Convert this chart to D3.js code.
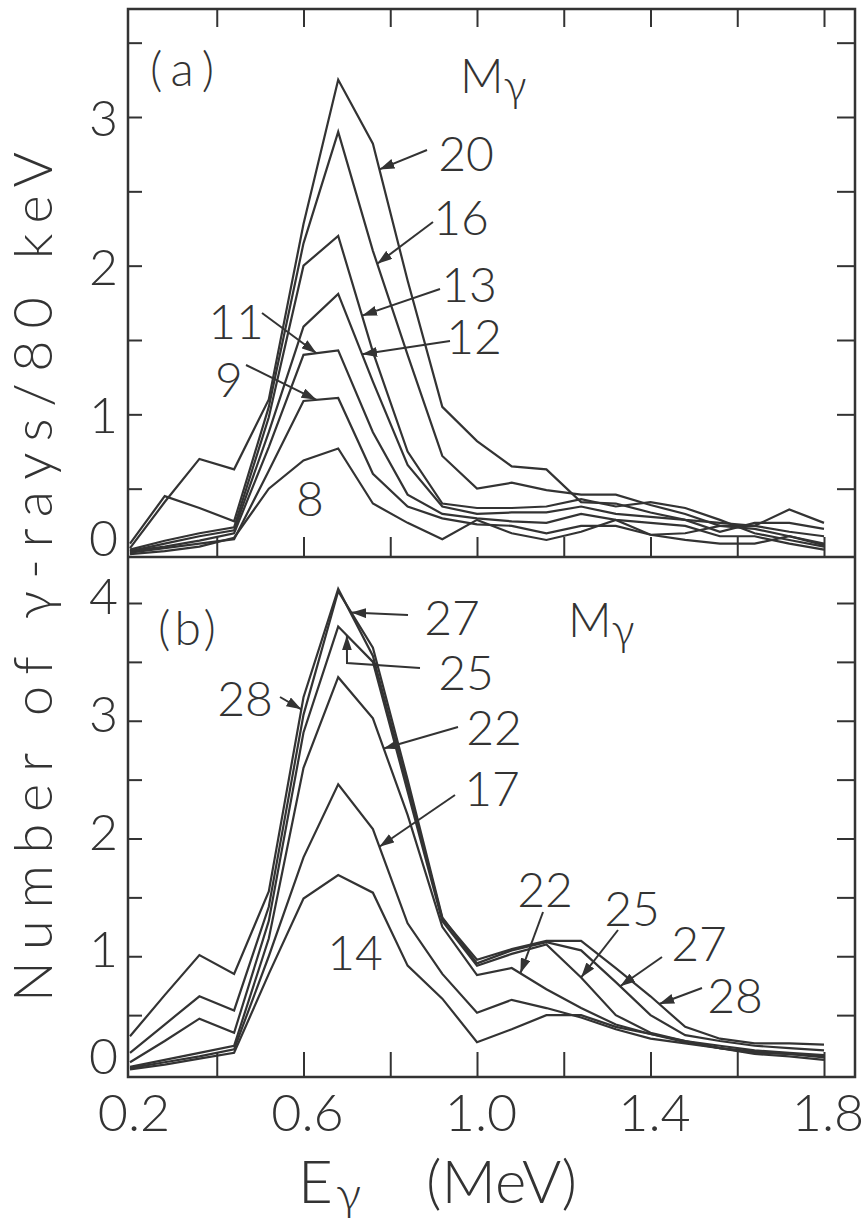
<!DOCTYPE html>
<html>
<head>
<meta charset="utf-8">
<script src="https://cdn.jsdelivr.net/npm/d3@7"></script>
<style>
  body { margin: 0; background: #fff; }
  svg text { font-family: Lato, "DejaVu Sans", sans-serif; font-weight: 300; fill: #333; }
</style>
</head>
<body>
<svg id="chart" width="867" height="1223"></svg>
<script>
// Gamma-ray energy bins (MeV), 80 keV wide
const energies = [0.20, 0.28, 0.36, 0.44, 0.52, 0.60, 0.68, 0.76, 0.84, 0.92, 1.00,
                  1.08, 1.16, 1.24, 1.32, 1.40, 1.48, 1.56, 1.64, 1.72, 1.80];

// Panel (a): spectra gated on gamma multiplicity
const a_M8  = [0.06,0.08,0.11,0.17,0.50,0.69,0.77,0.40,0.27,0.16,0.29,0.20,0.155,0.21,0.29,0.19,0.155,0.13,0.13,0.18,0.12];
const a_M9  = [0.07,0.10,0.13,0.16,0.62,1.09,1.11,0.60,0.38,0.30,0.26,0.25,0.20,0.25,0.25,0.19,0.20,0.25,0.25,0.36,0.27];
const a_M11 = [0.08,0.11,0.15,0.20,0.78,1.40,1.43,0.88,0.46,0.33,0.30,0.28,0.27,0.33,0.29,0.27,0.25,0.18,0.18,0.13,0.09];
const a_M12 = [0.08,0.13,0.18,0.22,0.88,1.59,1.81,1.22,0.66,0.38,0.33,0.34,0.34,0.38,0.33,0.31,0.29,0.21,0.27,0.27,0.23];
const a_M13 = [0.09,0.15,0.20,0.24,0.98,2.00,2.20,1.42,0.75,0.40,0.37,0.37,0.38,0.43,0.38,0.41,0.37,0.29,0.20,0.155,0.11];
const a_M16 = [0.13,0.45,0.37,0.28,1.05,2.15,2.90,2.10,1.40,0.72,0.50,0.54,0.49,0.46,0.46,0.39,0.33,0.25,0.23,0.18,0.13];
const a_M20 = [0.10,0.41,0.70,0.63,1.10,2.28,3.25,2.82,1.90,1.05,0.82,0.65,0.63,0.41,0.40,0.34,0.29,0.27,0.25,0.21,0.18];

// Panel (b)
const b_M14 = [0.04,0.08,0.13,0.18,0.85,1.49,1.69,1.54,0.92,0.64,0.27,0.38,0.50,0.50,0.40,0.34,0.28,0.22,0.17,0.15,0.12];
const b_M17 = [0.05,0.10,0.15,0.21,1.00,1.84,2.46,2.08,1.28,0.85,0.52,0.63,0.56,0.48,0.38,0.30,0.26,0.22,0.19,0.17,0.14];
const b_M22 = [0.06,0.12,0.18,0.24,1.15,2.60,3.37,3.02,2.20,1.25,0.84,0.90,0.72,0.56,0.42,0.34,0.27,0.22,0.18,0.17,0.15];
const b_M25 = [0.10,0.28,0.47,0.35,1.30,2.90,3.80,3.50,2.40,1.30,0.92,1.02,1.10,0.82,0.50,0.35,0.28,0.24,0.20,0.18,0.16];
const b_M27 = [0.18,0.42,0.66,0.54,1.42,3.05,4.10,3.62,2.50,1.33,0.94,1.05,1.12,1.05,0.78,0.50,0.33,0.28,0.24,0.22,0.20];
const b_M28 = [0.32,0.67,1.01,0.85,1.55,3.20,4.12,3.55,2.45,1.32,0.97,1.06,1.13,1.13,0.90,0.66,0.40,0.30,0.26,0.26,0.25];

// Axis ticks and labels
const xMajorTicks = [0.4, 0.6, 0.8, 1.0, 1.2, 1.4, 1.6, 1.8];
const xLabelValues = [0.2, 0.6, 1.0, 1.4, 1.8];
const xLabelText = ["0.2", "0.6", "1.0", "1.4", "1.8"];
const aTicks = [0.5, 1, 1.5, 2, 2.5, 3, 3.5];
const aLabels = [0, 1, 2, 3];
const bTicks = [0.5, 1, 1.5, 2, 2.5, 3, 3.5, 4];
const bLabels = [0, 1, 2, 3, 4];

const svg = d3.select("#chart");
const ink = "#333";

// Frame geometry
const L = 128, R = 855, TOP = 9, MID = 557, BOT = 1077;

const x = d3.scaleLinear().domain([0.2, 1.8]).range([130, 824]);
const yA = d3.scaleLinear().domain([0, 3]).range([563, 117]);
const yB = d3.scaleLinear().domain([0, 4]).range([1074, 603]);

// arrowhead
svg.append("defs").append("marker")
  .attr("id", "head").attr("markerUnits", "userSpaceOnUse")
  .attr("markerWidth", 16).attr("markerHeight", 10)
  .attr("refX", 15).attr("refY", 5).attr("orient", "auto")
  .append("path").attr("d", "M0,0 L15,5 L0,10 Z").attr("fill", ink);

// frame
svg.append("rect").attr("x", L).attr("y", TOP).attr("width", R - L).attr("height", BOT - TOP)
  .attr("fill", "none").attr("stroke", ink).attr("stroke-width", 2.5);
svg.append("line").attr("x1", L).attr("x2", R).attr("y1", MID).attr("y2", MID)
  .attr("stroke", ink).attr("stroke-width", 2.5);

function tickGroup(axis, tx, ty) {
  const g = svg.append("g").attr("transform", `translate(${tx},${ty})`).call(axis);
  g.select(".domain").remove();
  g.selectAll("text").remove();
  g.selectAll("line").attr("stroke", ink).attr("stroke-width", 2);
  return g;
}

// x ticks (inside)
tickGroup(d3.axisBottom(x).tickValues(xMajorTicks).tickSize(18), 0, TOP);
tickGroup(d3.axisTop(x).tickValues(xMajorTicks).tickSize(20), 0, MID);
tickGroup(d3.axisTop(x).tickValues(xMajorTicks).tickSize(25), 0, BOT);
// y ticks (inside, both sides)
tickGroup(d3.axisRight(yA).tickValues(aTicks).tickSize(14), L, 0);
tickGroup(d3.axisLeft(yA).tickValues(aTicks).tickSize(18), R, 0);
tickGroup(d3.axisRight(yB).tickValues(bTicks).tickSize(14), L, 0);
tickGroup(d3.axisLeft(yB).tickValues(bTicks).tickSize(18), R, 0);

// y tick labels
function yLabels(scale, values, shift, zeroShift) {
  svg.append("g").selectAll("text").data(values).join("text")
    .attr("x", 118).attr("y", d => scale(d) + (d === 0 ? zeroShift : shift))
    .attr("text-anchor", "end").attr("dominant-baseline", "central")
    .attr("font-size", 50).text(d => d);
}
yLabels(yA, aLabels, 0, -26);
yLabels(yB, bLabels, -8, -19);

// x tick labels
svg.append("g").selectAll("text").data(xLabelValues).join("text")
  .attr("x", d => x(d) + 4).attr("y", 1131).attr("text-anchor", "middle")
  .attr("font-size", 52).text((d, i) => xLabelText[i]);

// axis titles
svg.append("text").attr("x", 298).attr("y", 1203).attr("font-size", 60).text("E");
svg.append("text").attr("x", 336).attr("y", 1210).attr("font-size", 48).text("γ");
svg.append("text").attr("x", 426).attr("y", 1203).attr("font-size", 60).text("(MeV)");

svg.append("text").attr("transform", "translate(52,577) rotate(-90)")
  .attr("text-anchor", "middle").attr("font-size", 54)
  .attr("textLength", 850).attr("lengthAdjust", "spacing")
  .text("Number of γ-rays/80 keV");

// curves
const panelA = [a_M8, a_M9, a_M11, a_M12, a_M13, a_M16, a_M20];
const panelB = [b_M14, b_M17, b_M22, b_M25, b_M27, b_M28];

function drawCurves(series, y) {
  const line = d3.line().x((d, i) => x(energies[i])).y(d => y(d));
  svg.append("g").selectAll("path").data(series).join("path")
    .attr("d", line).attr("fill", "none").attr("stroke", ink)
    .attr("stroke-width", 2.2).attr("stroke-linejoin", "miter");
}
drawCurves(panelA, yA);
drawCurves(panelB, yB);

// value of a series at an arbitrary energy (linear between bins)
function valueAt(series, e) {
  const i = Math.min(energies.length - 2, Math.max(0, d3.bisectRight(energies, e) - 1));
  const t = (e - energies[i]) / (energies[i + 1] - energies[i]);
  return series[i] + t * (series[i + 1] - series[i]);
}

function label(txt, cx, cy) {
  svg.append("text").attr("x", cx).attr("y", cy).attr("text-anchor", "middle")
    .attr("dominant-baseline", "central").attr("font-size", 48).text(txt);
}
function arrow(points, series, e, y) {
  const tip = [x(e), y(valueAt(series, e))];
  svg.append("path").attr("d", d3.line()([...points, tip]))
    .attr("fill", "none").attr("stroke", ink).attr("stroke-width", 2)
    .attr("marker-end", "url(#head)");
}

// panel titles
svg.append("text").attr("x", 150).attr("y", 86).attr("font-size", 48)
  .attr("letter-spacing", 9).text("(a)");
svg.append("text").attr("x", 158).attr("y", 645).attr("font-size", 48)
  .attr("letter-spacing", 4).text("(b)");
function mGamma(x0, y0) {
  const t = svg.append("text").attr("x", x0).attr("y", y0).attr("font-size", 48);
  t.append("tspan").text("M");
  t.append("tspan").attr("dy", 8).attr("font-size", 44).text("γ");
}
mGamma(460, 93);
mGamma(568, 637);

// panel (a) annotations
label("20", 466, 152); arrow([[427, 150]], a_M20, 0.775, yA);
label("16", 461, 216); arrow([[433, 222]], a_M16, 0.77, yA);
label("13", 469, 283); arrow([[440, 289]], a_M13, 0.735, yA);
label("12", 474, 335); arrow([[450, 341]], a_M12, 0.735, yA);
label("11", 236, 320); arrow([[262, 313]], a_M11, 0.63, yA);
label("9", 229, 378); arrow([[246, 365]], a_M9, 0.63, yA);
label("8", 310, 497);

// panel (b) annotations
label("27", 452, 616); arrow([[408, 615]], b_M27, 0.71, yB);
label("25", 466, 671); arrow([[420, 668], [347, 663]], b_M25, 0.70, yB);
label("28", 245, 697); arrow([[280, 697]], b_M28, 0.595, yB);
label("22", 494, 726); arrow([[458, 727]], b_M22, 0.785, yB);
label("17", 492, 787); arrow([[455, 795]], b_M17, 0.775, yB);
label("14", 355, 951);
label("22", 545, 888); arrow([[543, 912]], b_M22, 1.10, yB);
label("25", 632, 907); arrow([[618, 930]], b_M25, 1.24, yB);
label("27", 699, 942); arrow([[662, 957]], b_M27, 1.33, yB);
label("28", 735, 994); arrow([[702, 988]], b_M28, 1.42, yB);
</script>
</body>
</html>
